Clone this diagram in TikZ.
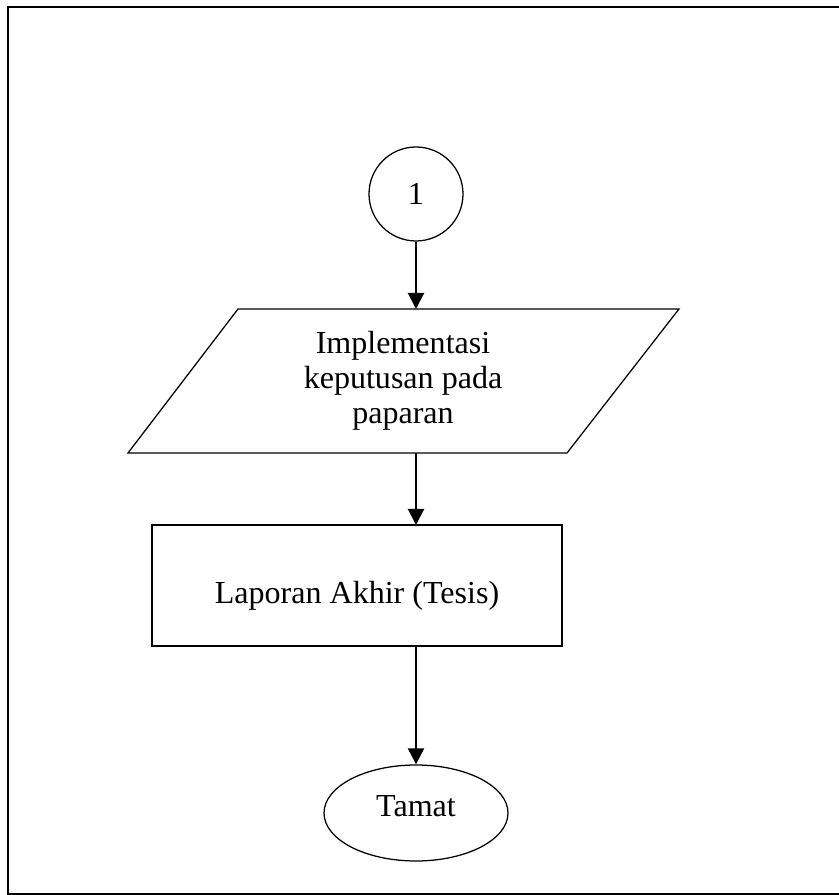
\documentclass[tikz,border=0pt]{standalone}
\usepackage{fontspec}
\setmainfont{Liberation Serif}
\usetikzlibrary{arrows.meta,shapes.geometric}

\begin{document}
\begin{tikzpicture}[
        flowline/.style={line width=1.5pt, -{Triangle[width=0.4cm,length=0.4cm]}},
        shapeline/.style={line width=0.9pt},
        font=\fontsize{22.8}{25}\selectfont
    ]
        \useasboundingbox (0, 0) rectangle (20.95, 22.375);
        \draw[line width=1.4pt] (0.2, 0.025) rectangle (21.2, 22.2);

        \node[shapeline, draw, circle, minimum size=2.35cm, inner sep=0pt] (sambung) at (10.4, 17.525) {1};

        \coordinate (p1) at (5.95, 14.65);
        \coordinate (p2) at (16.975, 14.65);
        \coordinate (p3) at (14.175, 11.05);
        \coordinate (p4) at (3.2, 11.05);
        \draw[shapeline] (p1) -- (p2) -- (p3) -- (p4) -- cycle;
        \node[align=center] (implementasi) at (10.075, 12.85) {Implementasi\\keputusan pada\\paparan};
        \coordinate (implAtas) at (10.4, 14.65);
        \coordinate (implBawah) at (10.4, 11.05);

        \node[shapeline, draw, minimum width=10.25cm, minimum height=3.025cm] (laporan) at (8.925, 7.7375) {};
        \node (laporanTeks) at (8.925, 7.49) {Laporan Akhir (Tesis)};
        \coordinate (laporanAtas) at (10.4, 9.25);
        \coordinate (laporanBawah) at (10.4, 6.225);

        \node[shapeline, draw, ellipse, minimum width=4.6cm, minimum height=2.4cm, inner sep=0pt] (tamat) at (10.4, 2.05) {};
        \node (tamatTeks) at (10.4, 2.23) {Tamat};

        \draw[flowline] (sambung) -- (implAtas);
        \draw[flowline] (implBawah) -- (laporanAtas);
        \draw[flowline] (laporanBawah) -- (tamat);
    \end{tikzpicture}
\end{document}
